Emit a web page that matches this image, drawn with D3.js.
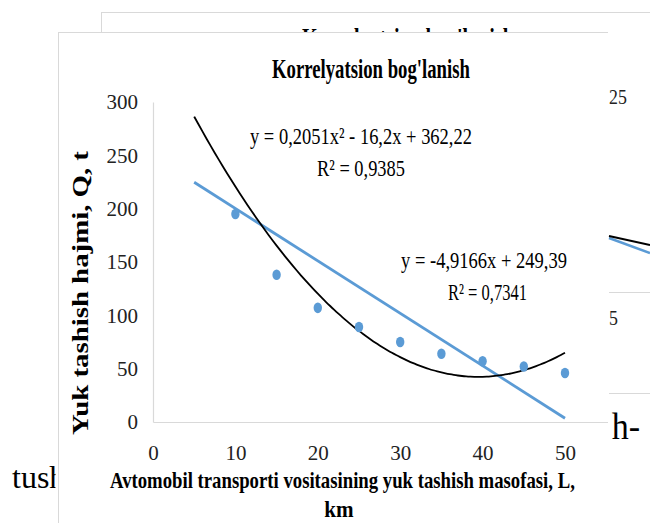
<!DOCTYPE html>
<html>
<head>
<meta charset="utf-8">
<script src="https://cdnjs.cloudflare.com/ajax/libs/d3/7.8.5/d3.min.js"></script>
<style>
html,body{margin:0;padding:0;background:#fff;overflow:hidden}
svg{display:block}
</style>
</head>
<body>
<script>
// ---------- data ----------
const distances = [10, 15, 20, 25, 30, 35, 40, 45, 50];
const volumes   = [195, 138, 107, 89, 75, 64, 57, 52, 46];
const xTicks = [0, 10, 20, 30, 40, 50];
const yTicks = [0, 50, 100, 150, 200, 250, 300];
const linearCoef = [-4.9166, 249.39];          // y = a x + b
const quadCoef   = [0.2051, -16.2, 362.22];     // y = a x^2 + b x + c
const trendRange = [5, 50];
const chartTitle = "Korrelyatsion bog'lanish";
const xTitleLines = ["Avtomobil transporti vositasining yuk tashish masofasi, L,", "km"];
const yTitle = "Yuk tashish hajmi, Q, t";
const eqQuad = ["y = 0,2051x² - 16,2x + 362,22", "R² = 0,9385"];
const eqLin  = ["y = -4,9166x + 249,39", "R² = 0,7341"];
// fragment of the chart lying behind
const backSteps = [0, 1];
const backBlack = [31.1, 29.3];
const backBlue  = [30.7, 27.7];
const backGrid  = [0, 20];
const backLabels = ["25", "5"];
const pageWords = ["tush", "h-"];

// ---------- setup ----------
const W = 650, H = 523;
const SERIF = "'Liberation Serif','Times New Roman',serif";
const BLUE = "#5B9BD5";
const BORDER = "#d9d9d9";

const svg = d3.select("body").append("svg").attr("width", W).attr("height", H);

// text fitted horizontally to a target width by a horizontal scale
function fit(g, s, o) {
  const t = g.append("text")
    .attr("x", 0).attr("y", 0)
    .attr("font-family", SERIF)
    .attr("font-size", o.size)
    .attr("font-weight", o.weight || "normal")
    .attr("fill", o.fill || "#000")
    .attr("text-anchor", o.anchor || "start")
    .text(s);
  let sx = 1;
  if (o.width) sx = o.width / t.node().getComputedTextLength();
  if (o.sx) sx = o.sx;
  const rot = o.rotate ? ` rotate(${o.rotate})` : "";
  t.attr("transform", `translate(${o.x},${o.y})${rot} scale(${sx},1)`);
  return t;
}

// ---------- page text (document) ----------
svg.append("clipPath").attr("id", "leftPage")
  .append("rect").attr("x", 0).attr("y", 0).attr("width", 55.5).attr("height", H);
const page = svg.append("g");
fit(page.append("g").attr("clip-path", "url(#leftPage)"), pageWords[0], {x: 12, y: 488, size: 32});
fit(page, pageWords[1], {x: 640, y: 439, size: 37, anchor: "end", sx: 0.92});

// ---------- chart behind ----------
const back = svg.append("g");
back.append("rect").attr("x", 101).attr("y", 12).attr("width", 549).attr("height", 381).attr("fill", "#fff");
back.append("line").attr("x1", 101).attr("x2", 650).attr("y1", 12.5).attr("y2", 12.5).attr("stroke", BORDER);
back.append("line").attr("x1", 101.5).attr("x2", 101.5).attr("y1", 12).attr("y2", 393).attr("stroke", BORDER);
fit(back, chartTitle, {x: 302, y: 47, size: 28, weight: "bold", width: 212});
const bx = d3.scaleLinear().domain([0, 1]).range([609, 650]);
const by = d3.scaleLinear().domain([0, 20]).range([393, 292]);
back.selectAll("line.grid").data(backGrid).join("line").attr("class", "grid")
  .attr("x1", bx(0)).attr("x2", bx(1))
  .attr("y1", d => by(d) + 0.5).attr("y2", d => by(d) + 0.5)
  .attr("stroke", BORDER);
fit(back, backLabels[0], {x: 609, y: 104, size: 21, fill: "#222", sx: 0.85});
fit(back, backLabels[1], {x: 609, y: 325, size: 21, fill: "#222", sx: 0.85});
const bline = d3.line().x((d, i) => bx(backSteps[i])).y(d => by(d));
back.append("path").attr("d", bline(backBlue)).attr("fill", "none").attr("stroke", BLUE).attr("stroke-width", 2.5);
back.append("path").attr("d", bline(backBlack)).attr("fill", "none").attr("stroke", "#000").attr("stroke-width", 2);

// ---------- front chart ----------
svg.append("clipPath").attr("id", "frontClip")
  .append("rect").attr("x", 58).attr("y", 32).attr("width", 550).attr("height", 491);
const front = svg.append("g").attr("clip-path", "url(#frontClip)");
front.append("rect").attr("x", 58).attr("y", 32).attr("width", 550).attr("height", 491).attr("fill", "#fff");
front.append("line").attr("x1", 58).attr("x2", 608).attr("y1", 32.5).attr("y2", 32.5).attr("stroke", BORDER);
front.append("line").attr("x1", 58.5).attr("x2", 58.5).attr("y1", 32).attr("y2", 523).attr("stroke", BORDER);

const x = d3.scaleLinear().domain([0, 60]).range([153, 647.4]);
const y = d3.scaleLinear().domain([0, 300]).range([422, 102]);

// axes
const xAxis = front.append("g").attr("transform", `translate(0,${y(0)})`)
  .call(d3.axisBottom(x).tickValues(xTicks).tickSize(0).tickPadding(23).tickFormat(d3.format("d")));
const yAxis = front.append("g").attr("transform", `translate(${x(0)},0)`)
  .call(d3.axisLeft(y).tickValues(yTicks).tickSize(0).tickPadding(15).tickFormat(d3.format("d")));
[xAxis, yAxis].forEach(a => {
  a.select(".domain").attr("stroke", BORDER).attr("stroke-width", 1.2);
  a.selectAll("text").attr("font-family", SERIF).attr("font-size", 21).attr("fill", "#222");
});

// titles
fit(front, chartTitle, {x: 272, y: 78, size: 28, weight: "bold", width: 198});
fit(front, xTitleLines[0], {x: 110, y: 488, size: 23, weight: "bold", width: 465});
fit(front, xTitleLines[1], {x: 339, y: 517, size: 23, weight: "bold", anchor: "middle", sx: 0.92});
fit(front, yTitle, {x: 88, y: 293, size: 23, weight: "bold", anchor: "middle", rotate: -90, width: 284});

// trendlines
const quadSamples = d3.range(trendRange[0], trendRange[1] + 0.001, 0.5);
const linePath = d3.line().x(d => x(d)).y(d => y(linearCoef[0] * d + linearCoef[1]));
const quadPath = d3.line().curve(d3.curveMonotoneX).x(d => x(d)).y(d => y(quadCoef[0] * d * d + quadCoef[1] * d + quadCoef[2]));
front.append("path").attr("d", linePath(trendRange)).attr("fill", "none").attr("stroke", BLUE).attr("stroke-width", 2.8);
front.append("path").attr("d", quadPath(quadSamples)).attr("fill", "none").attr("stroke", "#000").attr("stroke-width", 1.8);

// points
front.selectAll("ellipse.pt").data(distances).join("ellipse").attr("class", "pt")
  .attr("cx", d => x(d)).attr("cy", (d, i) => y(volumes[i]))
  .attr("rx", 4.2).attr("ry", 5.3).attr("fill", BLUE);

// equations
fit(front, eqQuad[0], {x: 250, y: 144, size: 23, width: 222});
fit(front, eqQuad[1], {x: 317, y: 176, size: 23, width: 88});
fit(front, eqLin[0], {x: 401, y: 268, size: 23, width: 166});
fit(front, eqLin[1], {x: 448, y: 300, size: 23, width: 79});
</script>
</body>
</html>
